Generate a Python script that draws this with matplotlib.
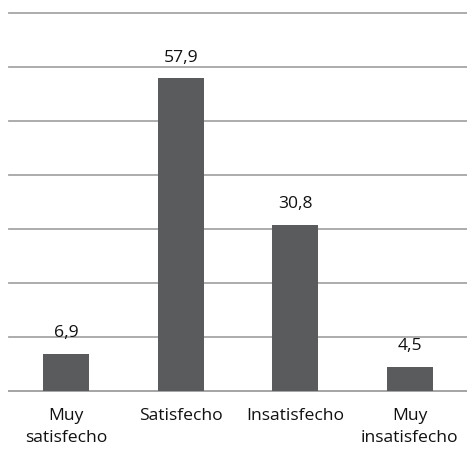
import matplotlib
matplotlib.use("Agg")
import matplotlib.pyplot as plt

categories = ["Muy\nsatisfecho", "Satisfecho", "Insatisfecho", "Muy\ninsatisfecho"]
values = [6.9, 57.9, 30.8, 4.5]
value_labels = ["6,9", "57,9", "30,8", "4,5"]

plt.rcParams['font.family'] = ['Open Sans', 'DejaVu Sans']

fig = plt.figure(figsize=(4.67, 4.5), dpi=100)
ax = fig.add_axes([9/467, 1 - 391/450, 1 - 9/467, (391 - 13)/450])

x = range(len(categories))
ax.bar(x, values, width=0.4, color="#595b5d", zorder=3)
for xi, v, lab in zip(x, values, value_labels):
    ax.text(xi, v + 2.3, lab, ha="center", va="bottom", fontsize=12.6, color="#111111")

ax.set_xlim(-0.5, 3.5)
ax.set_ylim(0, 70)
ax.set_yticks(range(0, 71, 10))
ax.yaxis.grid(True, color="#a6a6a6", linewidth=1.3, zorder=0)
for gl in ax.get_ygridlines():
    gl.set_clip_on(False)
ax.tick_params(axis="y", left=False, labelleft=False)
ax.set_xticks(list(x))
ax.set_xticklabels(categories, fontsize=12.6, color="#111111", linespacing=1.55)
ax.tick_params(axis="x", length=0, pad=12)
for s in ["top", "right", "left"]:
    ax.spines[s].set_visible(False)
ax.spines["bottom"].set_color("#a6a6a6")
ax.spines["bottom"].set_linewidth(1.3)

fig.savefig("out.png", dpi=100)
